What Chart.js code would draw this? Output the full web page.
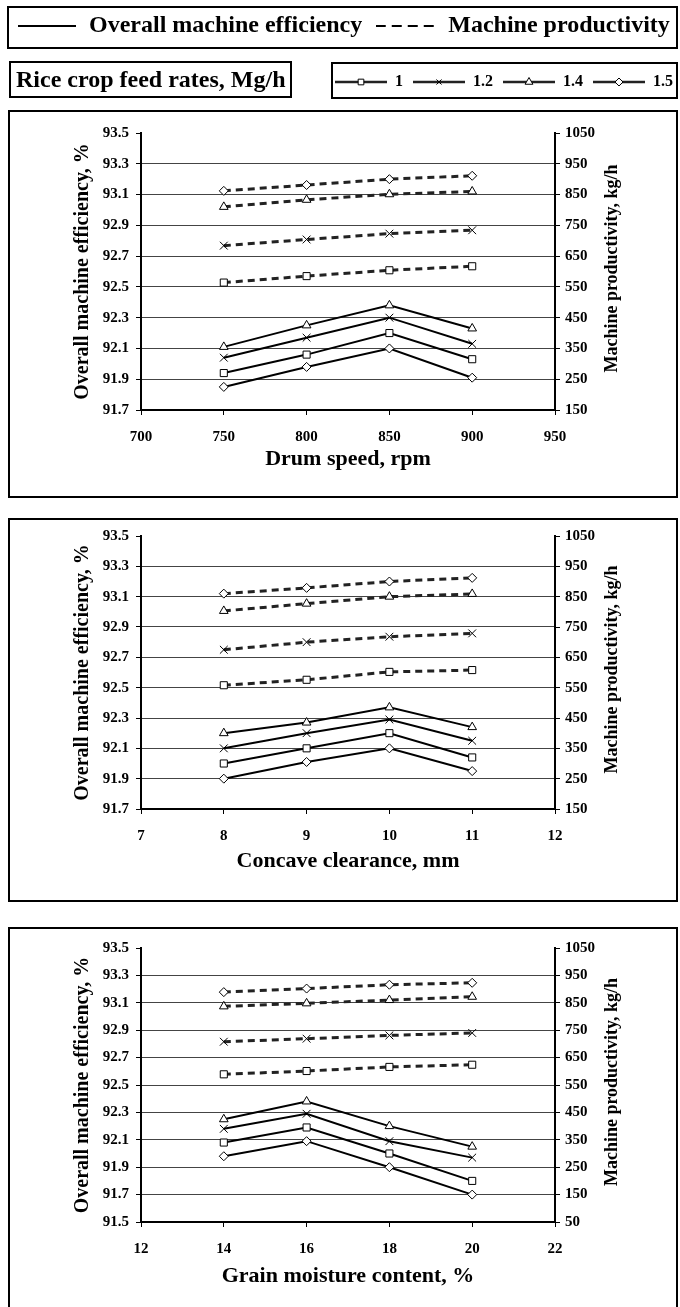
<!DOCTYPE html>
<html>
<head>
<meta charset="utf-8">
<script src="https://cdn.jsdelivr.net/npm/chart.js@4.4.1/dist/chart.umd.min.js"></script>
<style>
  html, body { margin: 0; padding: 0; background: #fff; }
  body { width: 680px; height: 1307px; position: relative; overflow: hidden; font-family: 'Liberation Serif', 'Times New Roman', serif; }
  .box { position: absolute; border: 2px solid #000; box-sizing: border-box; pointer-events: none; }
  .wrap { position: absolute; }
  .wrap canvas { display: block; }
  #feedTitle { font-weight: bold; font-size: 24px; line-height: 33px; padding-left: 5px; white-space: nowrap; }
</style>
</head>
<body>
<!-- legends -->
<div class="wrap" style="left:3px;top:0px"><canvas id="legendTop" width="700" height="120"></canvas></div>
<div class="box" style="left:7px;top:6px;width:671px;height:43px"></div>
<div class="box" id="feedTitle" style="left:9px;top:61px;width:283px;height:37px">Rice crop feed rates, Mg/h</div>
<div class="wrap" style="left:325px;top:64px"><canvas id="legendFeed" width="400" height="80"></canvas></div>
<div class="box" style="left:331px;top:62px;width:347px;height:37px"></div>

<!-- panels -->
<div class="box" style="left:8px;top:110px;width:670px;height:388px"></div>
<div class="wrap" style="left:10px;top:112px"><canvas id="chartDrum" width="666" height="384"></canvas></div>

<div class="box" style="left:8px;top:518px;width:670px;height:384px"></div>
<div class="wrap" style="left:10px;top:520px"><canvas id="chartConcave" width="666" height="380"></canvas></div>

<div class="box" style="left:8px;top:927px;width:670px;height:400px"></div>
<div class="wrap" style="left:10px;top:929px"><canvas id="chartMoisture" width="666" height="376"></canvas></div>

<script>
// --- データ ---
const FEED_RATES = ['1', '1.2', '1.4', '1.5'];

// Drum speed, rpm
const drumSpeed = [750, 800, 850, 900];
const drumEfficiency = [
    [91.94, 92.06, 92.20, 92.03],
    [92.04, 92.17, 92.30, 92.13],
    [92.11, 92.25, 92.38, 92.23],
    [91.85, 91.98, 92.10, 91.91]
];
const drumProductivity = [
    [564, 585, 604, 617],
    [684, 704, 723, 734],
    [810, 833, 851, 860],
    [862, 881, 900, 911]
];

// Concave clearance, mm
const concaveClearance = [8, 9, 10, 11];
const concaveEfficiency = [
    [92.00, 92.10, 92.20, 92.04],
    [92.10, 92.20, 92.29, 92.15],
    [92.20, 92.27, 92.37, 92.24],
    [91.90, 92.01, 92.10, 91.95]
];
const concaveProductivity = [
    [558, 576, 602, 608],
    [675, 700, 718, 729],
    [803, 827, 850, 859],
    [860, 879, 900, 912]
];

// Grain moisture content, %
const grainMoisture = [14, 16, 18, 20];
const moistureEfficiency = [
    [92.08, 92.19, 92.00, 91.80],
    [92.18, 92.29, 92.09, 91.97],
    [92.25, 92.38, 92.20, 92.05],
    [91.98, 92.09, 91.90, 91.70]
];
const moistureProductivity = [
    [589, 601, 616, 624],
    [708, 719, 731, 740],
    [837, 848, 860, 872],
    [889, 902, 916, 923]
];

// --- スタイル ---
const FONT = "'Liberation Serif', 'Times New Roman', serif";
const MARKERS = ['rect', 'crossRot', 'triangle', 'rectRot'];
const MARKER_RADIUS = [5, 5.5, 5, 4.5];
const tickFont = { family: FONT, size: 15, weight: 'bold' };
const RIGHT_TITLE = 'Machine productivity, kg/h';

// 右軸タイトルは下から上へ読む向きなのでプラグインで描く
const rightTitlePlugin = {
    id: 'rightTitle',
    afterDraw(chart) {
        const s = chart.scales.y1;
        const ctx = chart.ctx;
        ctx.save();
        ctx.translate(602, (s.top + s.bottom) / 2 - 3);
        ctx.rotate(-Math.PI / 2);
        ctx.font = 'bold 18px ' + FONT;
        ctx.fillStyle = '#000';
        ctx.textAlign = 'center';
        ctx.textBaseline = 'middle';
        ctx.fillText(RIGHT_TITLE, 0, 0);
        ctx.restore();
    }
};

// --- 凡例アイコン ---
function lineIcon(width, dash) {
    const c = document.createElement('canvas');
    c.width = width; c.height = 10;
    const ctx = c.getContext('2d');
    ctx.strokeStyle = '#000';
    ctx.lineWidth = 2;
    ctx.setLineDash(dash);
    ctx.beginPath(); ctx.moveTo(0, 5); ctx.lineTo(width, 5); ctx.stroke();
    return c;
}

function markerIcon(width, style, radius) {
    const c = document.createElement('canvas');
    c.width = width; c.height = 14;
    const ctx = c.getContext('2d');
    ctx.strokeStyle = '#222';
    ctx.lineWidth = 2.5;
    ctx.beginPath(); ctx.moveTo(0, 7); ctx.lineTo(width, 7); ctx.stroke();
    ctx.fillStyle = '#fff';
    ctx.strokeStyle = '#000';
    ctx.lineWidth = 1;
    Chart.helpers.drawPoint(ctx, { pointStyle: style, radius: radius, borderWidth: 1, rotation: 0 }, width / 2, 7);
    return c;
}

function legendChart(canvasId, labels, icons, fontSize, padding, iconWidth) {
    return new Chart(document.getElementById(canvasId), {
        type: 'line',
        data: { datasets: labels.map(l => ({ label: l, data: [] })) },
        options: {
            responsive: false,
            animation: false,
            events: [],
            layout: { padding: 0 },
            scales: { x: { display: false }, y: { display: false } },
            plugins: {
                tooltip: { enabled: false },
                legend: {
                    display: true,
                    position: 'top',
                    align: 'start',
                    labels: {
                        usePointStyle: true,
                        pointStyleWidth: iconWidth,
                        padding: padding,
                        color: '#000',
                        font: { family: FONT, size: fontSize, weight: 'bold' },
                        generateLabels: chart => chart.data.datasets.map((ds, i) => ({
                            text: ds.label, pointStyle: icons[i], fillStyle: '#000', strokeStyle: '#000',
                            lineWidth: 0, hidden: false, datasetIndex: i, fontColor: '#000'
                        }))
                    }
                }
            }
        }
    });
}

// --- パネル ---
function panelChart(canvasId, cfg) {
    const datasets = [];
    FEED_RATES.forEach((rate, i) => {
        datasets.push({
            label: rate + ' efficiency',
            yAxisID: 'y',
            data: cfg.xs.map((x, j) => ({ x: x, y: cfg.efficiency[i][j] })),
            borderColor: '#000', borderWidth: 2,
            pointStyle: MARKERS[i], pointRadius: MARKER_RADIUS[i],
            pointBackgroundColor: '#fff', pointBorderColor: '#000', pointBorderWidth: 1
        });
    });
    FEED_RATES.forEach((rate, i) => {
        datasets.push({
            label: rate + ' productivity',
            yAxisID: 'y1',
            data: cfg.xs.map((x, j) => ({ x: x, y: cfg.productivity[i][j] })),
            borderColor: '#222', borderWidth: 3, borderDash: [7, 5],
            pointStyle: MARKERS[i], pointRadius: MARKER_RADIUS[i],
            pointBackgroundColor: '#fff', pointBorderColor: '#000', pointBorderWidth: 1
        });
    });

    return new Chart(document.getElementById(canvasId), {
        type: 'line',
        data: { datasets: datasets },
        plugins: [rightTitlePlugin],
        options: {
            responsive: false,
            animation: false,
            events: [],
            clip: false,
            layout: { padding: { top: cfg.padTop, bottom: 0, left: 0, right: 0 } },
            elements: { line: { tension: 0 } },
            plugins: { legend: { display: false }, tooltip: { enabled: false } },
            scales: {
                x: {
                    type: 'linear', position: 'bottom',
                    min: cfg.xMin, max: cfg.xMax,
                    ticks: { stepSize: cfg.xStep, color: '#000', font: tickFont, padding: 13, callback: v => String(v) },
                    grid: { drawOnChartArea: false, tickLength: 5, tickColor: '#000', lineWidth: 1 },
                    border: { color: '#000', width: 2 },
                    title: { display: true, text: cfg.xTitle, color: '#000', font: { family: FONT, size: 22, weight: 'bold' }, padding: { top: 0, bottom: cfg.titlePad } },
                    afterFit: s => { s.height = cfg.xHeight; }
                },
                y: {
                    type: 'linear', position: 'left',
                    min: cfg.yMin, max: 93.5,
                    ticks: { stepSize: 0.2, color: '#000', font: tickFont, padding: 7, callback: v => v.toFixed(1) },
                    grid: {
                        color: ctx => (ctx.tick && ctx.tick.value > 93.45) ? 'rgba(0,0,0,0)' : '#444',
                        lineWidth: 1, tickLength: 5, tickColor: '#000'
                    },
                    border: { color: '#000', width: 2 },
                    title: { display: true, text: 'Overall machine efficiency, %', color: '#000', font: { family: FONT, size: 20, weight: 'bold' }, padding: { top: 61, bottom: 0 } },
                    afterFit: s => { s.width = 131; }
                },
                y1: {
                    type: 'linear', position: 'right',
                    min: cfg.y1Min, max: 1050,
                    ticks: { stepSize: 100, color: '#000', font: tickFont, padding: 5, callback: v => String(v) },
                    grid: { drawOnChartArea: false, tickLength: 5, tickColor: '#000' },
                    border: { color: '#000', width: 2 },
                    title: { display: false },
                    afterFit: s => { s.width = 121; }
                }
            }
        }
    });
}

legendChart('legendTop', ['Overall machine efficiency', 'Machine productivity'],
    [lineIcon(58, []), lineIcon(61, [10, 6])], 24, 14, 60);

legendChart('legendFeed', FEED_RATES,
    [markerIcon(52, 'rect', 4), markerIcon(52, 'crossRot', 3.6), markerIcon(52, 'triangle', 4.5), markerIcon(52, 'rectRot', 4)], 16, 10, 52);

panelChart('chartDrum', {
    xs: drumSpeed, efficiency: drumEfficiency, productivity: drumProductivity,
    xMin: 700, xMax: 950, xStep: 50, xTitle: 'Drum speed, rpm',
    yMin: 91.7, y1Min: 150, padTop: 21, xHeight: 86, titlePad: 23
});

panelChart('chartConcave', {
    xs: concaveClearance, efficiency: concaveEfficiency, productivity: concaveProductivity,
    xMin: 7, xMax: 12, xStep: 1, xTitle: 'Concave clearance, mm',
    yMin: 91.7, y1Min: 150, padTop: 16, xHeight: 91, titlePad: 25
});

panelChart('chartMoisture', {
    xs: grainMoisture, efficiency: moistureEfficiency, productivity: moistureProductivity,
    xMin: 12, xMax: 22, xStep: 2, xTitle: 'Grain moisture content, %',
    yMin: 91.5, y1Min: 50, padTop: 19, xHeight: 83, titlePad: 15
});
</script>
</body>
</html>
